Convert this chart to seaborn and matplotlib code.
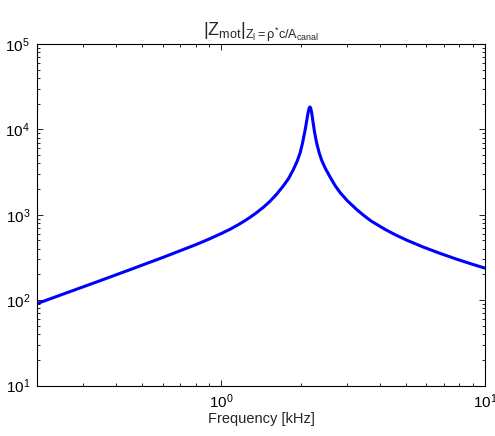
import matplotlib
matplotlib.use("Agg")
import matplotlib.pyplot as plt
import seaborn as sns
import pandas as pd

# values (frequency in kHz, |Z_mot|)
freq_khz = [0.2, 0.25, 0.34, 0.45, 0.6, 0.8, 0.9, 1.0, 1.08, 1.15, 1.22,
            1.28, 1.36, 1.45, 1.53, 1.62, 1.72, 1.8, 1.875, 1.94, 1.99,
            2.03, 2.08, 2.11, 2.125, 2.14, 2.155, 2.17, 2.185, 2.2, 2.215,
            2.23, 2.245, 2.26, 2.3, 2.35, 2.4, 2.48, 2.58, 2.7, 2.82, 3.0,
            3.26, 3.45, 3.7, 4.2, 4.6, 5.05, 5.8, 6.75, 7.8, 9.0, 10.0]
z_mot = [91, 117, 165, 227, 316, 446, 520, 603, 677, 753, 840,
         925, 1057, 1237, 1438, 1737, 2182, 2660, 3370, 4250, 5300,
         6800, 9900, 12800, 14600, 16400, 17800, 18300, 17500, 15900, 13800,
         11900, 10400, 9100, 6900, 5330, 4380, 3495, 2800, 2200, 1824, 1468,
         1153, 995, 844, 668, 577, 504, 421, 353, 302, 262, 237]

df = pd.DataFrame({"freq": freq_khz, "z": z_mot})

sns.set_style("ticks")
plt.rcParams.update({
    'font.family': ['Liberation Sans', 'DejaVu Sans'],
    'mathtext.fontset': 'custom',
    'mathtext.rm': 'Liberation Sans',
    'mathtext.it': 'Liberation Sans',
    'mathtext.bf': 'Liberation Sans',
    'axes.linewidth': 0.8,
    'xtick.direction': 'in',
    'ytick.direction': 'in',
})

fig = plt.figure(figsize=(4.95, 4.36), dpi=100)
ax = fig.add_axes([0.0747, 0.1158, 0.9051, 0.7833])

sns.lineplot(data=df, x="freq", y="z", color="#0000ff", linewidth=2.2,
             estimator=None, ax=ax)

ax.set_xscale("log")
ax.set_yscale("log")
ax.set_xlim(0.2, 10)
ax.set_ylim(10, 1e5)

ax.tick_params(which="both", top=True, right=True, labelsize=11,
               color="black", labelcolor="black")
ax.tick_params(which="major", length=4, width=0.6, pad=5)
ax.tick_params(which="minor", length=2, width=0.6)
for s in ax.spines.values():
    s.set_visible(True)
    s.set_color("black")

ax.set_xlabel("Frequency [kHz]", fontsize=10.5, labelpad=1)
ax.set_ylabel("")
ax.set_title(r"$|Z_{mot}|_{Z_l\mathrm{=}\rho^{*}c/A_{canal}}$", fontsize=13, pad=5)

fig.savefig("out.png", dpi=100, facecolor="white")
